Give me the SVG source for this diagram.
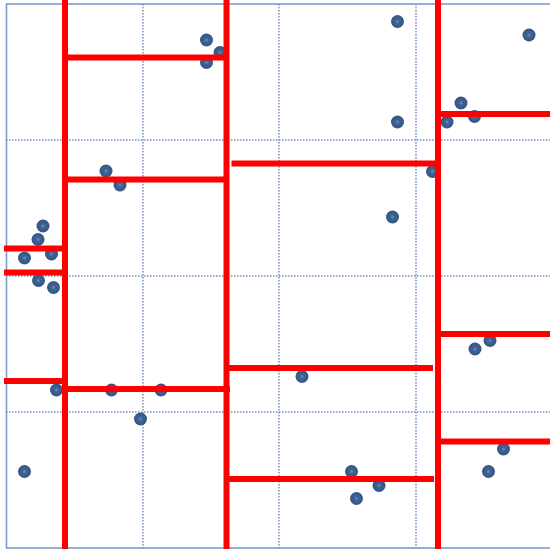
<svg xmlns="http://www.w3.org/2000/svg" width="550" height="549" viewBox="0 0 550 549">
<defs>
<radialGradient id="dot" cx="50%" cy="50%" r="50%">
<stop offset="0" stop-color="#6a93c8"/>
<stop offset="0.3" stop-color="#3f6497"/>
<stop offset="1" stop-color="#33557f"/>
</radialGradient>
<style>
.frame{fill:none;stroke:#7c9dcf;stroke-width:1.6}
.grid{stroke:#7190c0;stroke-width:1.5;stroke-dasharray:1.5 1.5;fill:none}
.pt{fill:url(#dot)}
.cut{stroke:#ff0000;stroke-width:6;fill:none}
</style>
</defs>
<rect width="550" height="549" fill="#ffffff"/>
<g id="frame">
<rect class="frame" x="6.5" y="4" width="546" height="544"/>
<g class="grid">
<line x1="143" y1="4" x2="143" y2="548"/>
<line x1="279" y1="4" x2="279" y2="548"/>
<line x1="416" y1="4" x2="416" y2="548"/>
<line x1="6" y1="140" x2="552" y2="140"/>
<line x1="6" y1="276" x2="552" y2="276"/>
<line x1="6" y1="412" x2="552" y2="412"/>
</g>
</g>
<g id="points">
<circle class="pt" cx="206.5" cy="40" r="6.5"/>
<circle class="pt" cx="220" cy="52.5" r="6.5"/>
<circle class="pt" cx="206.5" cy="62.5" r="6.5"/>
<circle class="pt" cx="106" cy="171" r="6.5"/>
<circle class="pt" cx="120" cy="185" r="6.5"/>
<circle class="pt" cx="43" cy="226" r="6.5"/>
<circle class="pt" cx="38" cy="239.5" r="6.5"/>
<circle class="pt" cx="24.5" cy="258" r="6.5"/>
<circle class="pt" cx="51.5" cy="254" r="6.5"/>
<circle class="pt" cx="397.5" cy="21.5" r="6.5"/>
<circle class="pt" cx="529" cy="35" r="6.5"/>
<circle class="pt" cx="461" cy="103" r="6.5"/>
<circle class="pt" cx="474.5" cy="116.5" r="6.5"/>
<circle class="pt" cx="447" cy="122" r="6.5"/>
<circle class="pt" cx="397.5" cy="122" r="6.5"/>
<circle class="pt" cx="432.5" cy="171.5" r="6.5"/>
<circle class="pt" cx="392.5" cy="217" r="6.5"/>
<circle class="pt" cx="38.5" cy="280.5" r="6.5"/>
<circle class="pt" cx="53.5" cy="287.5" r="6.5"/>
<circle class="pt" cx="56.5" cy="390" r="6.5"/>
<circle class="pt" cx="111.5" cy="390" r="6.5"/>
<circle class="pt" cx="161" cy="390" r="6.5"/>
<circle class="pt" cx="140.5" cy="419" r="6.5"/>
<circle class="pt" cx="24.5" cy="471.5" r="6.5"/>
<circle class="pt" cx="302" cy="376.5" r="6.5"/>
<circle class="pt" cx="475" cy="349" r="6.5"/>
<circle class="pt" cx="490" cy="340.5" r="6.5"/>
<circle class="pt" cx="503.5" cy="449" r="6.5"/>
<circle class="pt" cx="488.5" cy="471.5" r="6.5"/>
<circle class="pt" cx="351.5" cy="471.5" r="6.5"/>
<circle class="pt" cx="379" cy="485.5" r="6.5"/>
<circle class="pt" cx="356.5" cy="498.5" r="6.5"/>
</g>
<g id="splits" class="cut">
<line x1="65" y1="0" x2="65" y2="549"/>
<line x1="226.5" y1="0" x2="226.5" y2="549"/>
<line x1="438" y1="0" x2="438" y2="549"/>
<line x1="65" y1="57.5" x2="226.5" y2="57.5"/>
<line x1="65" y1="179.5" x2="226.5" y2="179.5"/>
<line x1="231.5" y1="163.5" x2="438" y2="163.5"/>
<line x1="438" y1="114" x2="550" y2="114"/>
<line x1="4" y1="248.5" x2="65" y2="248.5"/>
<line x1="4" y1="272.5" x2="65" y2="272.5"/>
<line x1="4" y1="381" x2="65" y2="381"/>
<line x1="65" y1="389" x2="230" y2="389"/>
<line x1="229" y1="368" x2="433" y2="368"/>
<line x1="229" y1="479" x2="434" y2="479"/>
<line x1="438" y1="334" x2="550" y2="334"/>
<line x1="438" y1="441.5" x2="550" y2="441.5"/>
</g>
</svg>
